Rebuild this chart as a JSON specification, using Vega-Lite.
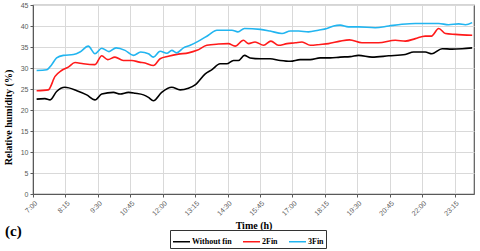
{
  "$schema": "https://vega.github.io/schema/vega-lite/v6.json",
  "width": 441,
  "height": 189,
  "autosize": {"type": "none"},
  "padding": {"left": 33, "top": 5, "right": 6, "bottom": 57},
  "background": "white",
  "title": {
    "text": "(c)",
    "orient": "bottom",
    "anchor": "start",
    "frame": "group",
    "font": "Liberation Serif",
    "fontSize": 15,
    "fontWeight": "bold",
    "color": "black",
    "dx": -28,
    "dy": -14,
    "offset": -11
  },
  "config": {
    "view": {"stroke": "#595959", "strokeWidth": 1.2},
    "axis": {
      "gridColor": "#d9d9d9",
      "gridWidth": 1,
      "domainColor": "#595959",
      "tickColor": "#595959",
      "tickSize": 3,
      "labelFont": "Liberation Sans",
      "labelFontSize": 7,
      "labelColor": "#595959",
      "titleFont": "Liberation Serif",
      "titleFontSize": 10,
      "titleFontWeight": "bold",
      "titleColor": "black"
    }
  },
  "data": {
    "values": [
      {"h": 7.14, "s": "Without fin", "v": 22.6},
      {"h": 7.46, "s": "Without fin", "v": 22.7},
      {"h": 7.66, "s": "Without fin", "v": 22.4},
      {"h": 7.91, "s": "Without fin", "v": 24.4},
      {"h": 8.23, "s": "Without fin", "v": 25.4},
      {"h": 8.69, "s": "Without fin", "v": 24.6},
      {"h": 9.07, "s": "Without fin", "v": 23.6},
      {"h": 9.39, "s": "Without fin", "v": 22.4},
      {"h": 9.65, "s": "Without fin", "v": 23.8},
      {"h": 10.1, "s": "Without fin", "v": 24.2},
      {"h": 10.36, "s": "Without fin", "v": 23.8},
      {"h": 10.68, "s": "Without fin", "v": 24.2},
      {"h": 10.94, "s": "Without fin", "v": 24.0},
      {"h": 11.26, "s": "Without fin", "v": 23.6},
      {"h": 11.45, "s": "Without fin", "v": 23.0},
      {"h": 11.64, "s": "Without fin", "v": 22.2},
      {"h": 11.96, "s": "Without fin", "v": 24.2},
      {"h": 12.35, "s": "Without fin", "v": 25.4},
      {"h": 12.67, "s": "Without fin", "v": 24.8},
      {"h": 12.99, "s": "Without fin", "v": 25.2},
      {"h": 13.25, "s": "Without fin", "v": 26.0},
      {"h": 13.64, "s": "Without fin", "v": 28.6},
      {"h": 13.9, "s": "Without fin", "v": 29.6},
      {"h": 14.21, "s": "Without fin", "v": 31.0},
      {"h": 14.47, "s": "Without fin", "v": 31.0},
      {"h": 14.73, "s": "Without fin", "v": 31.8},
      {"h": 14.92, "s": "Without fin", "v": 31.8},
      {"h": 15.15, "s": "Without fin", "v": 33.0},
      {"h": 15.37, "s": "Without fin", "v": 32.4},
      {"h": 15.76, "s": "Without fin", "v": 32.2},
      {"h": 16.14, "s": "Without fin", "v": 32.2},
      {"h": 16.53, "s": "Without fin", "v": 31.8},
      {"h": 16.92, "s": "Without fin", "v": 31.6},
      {"h": 17.3, "s": "Without fin", "v": 32.0},
      {"h": 17.69, "s": "Without fin", "v": 32.0},
      {"h": 18.07, "s": "Without fin", "v": 32.4},
      {"h": 18.46, "s": "Without fin", "v": 32.4},
      {"h": 18.84, "s": "Without fin", "v": 32.6},
      {"h": 19.23, "s": "Without fin", "v": 32.7},
      {"h": 19.55, "s": "Without fin", "v": 33.0},
      {"h": 20.07, "s": "Without fin", "v": 32.6},
      {"h": 20.71, "s": "Without fin", "v": 32.9},
      {"h": 21.35, "s": "Without fin", "v": 33.2},
      {"h": 21.67, "s": "Without fin", "v": 33.8},
      {"h": 22.12, "s": "Without fin", "v": 33.8},
      {"h": 22.38, "s": "Without fin", "v": 33.4},
      {"h": 22.77, "s": "Without fin", "v": 34.6},
      {"h": 23.15, "s": "Without fin", "v": 34.5},
      {"h": 23.54, "s": "Without fin", "v": 34.6},
      {"h": 23.93, "s": "Without fin", "v": 34.8},

      {"h": 7.14, "s": "2Fin", "v": 24.6},
      {"h": 7.59, "s": "2Fin", "v": 24.8},
      {"h": 7.85, "s": "2Fin", "v": 28.0},
      {"h": 8.1, "s": "2Fin", "v": 29.4},
      {"h": 8.36, "s": "2Fin", "v": 30.2},
      {"h": 8.62, "s": "2Fin", "v": 31.3},
      {"h": 8.94, "s": "2Fin", "v": 31.0},
      {"h": 9.39, "s": "2Fin", "v": 30.8},
      {"h": 9.65, "s": "2Fin", "v": 32.9},
      {"h": 9.88, "s": "2Fin", "v": 32.0},
      {"h": 10.16, "s": "2Fin", "v": 32.6},
      {"h": 10.48, "s": "2Fin", "v": 31.8},
      {"h": 10.81, "s": "2Fin", "v": 31.8},
      {"h": 11.1, "s": "2Fin", "v": 31.4},
      {"h": 11.32, "s": "2Fin", "v": 31.2},
      {"h": 11.64, "s": "2Fin", "v": 30.6},
      {"h": 11.9, "s": "2Fin", "v": 32.2},
      {"h": 12.22, "s": "2Fin", "v": 32.8},
      {"h": 12.6, "s": "2Fin", "v": 33.3},
      {"h": 12.99, "s": "2Fin", "v": 33.6},
      {"h": 13.32, "s": "2Fin", "v": 34.2},
      {"h": 13.7, "s": "2Fin", "v": 35.4},
      {"h": 14.15, "s": "2Fin", "v": 35.7},
      {"h": 14.53, "s": "2Fin", "v": 35.8},
      {"h": 14.79, "s": "2Fin", "v": 35.2},
      {"h": 15.11, "s": "2Fin", "v": 36.6},
      {"h": 15.31, "s": "2Fin", "v": 35.8},
      {"h": 15.56, "s": "2Fin", "v": 36.2},
      {"h": 15.89, "s": "2Fin", "v": 35.4},
      {"h": 16.17, "s": "2Fin", "v": 36.4},
      {"h": 16.46, "s": "2Fin", "v": 35.4},
      {"h": 16.79, "s": "2Fin", "v": 35.8},
      {"h": 17.11, "s": "2Fin", "v": 36.0},
      {"h": 17.37, "s": "2Fin", "v": 36.2},
      {"h": 17.69, "s": "2Fin", "v": 35.4},
      {"h": 18.07, "s": "2Fin", "v": 35.6},
      {"h": 18.39, "s": "2Fin", "v": 35.8},
      {"h": 18.84, "s": "2Fin", "v": 36.4},
      {"h": 19.2, "s": "2Fin", "v": 36.7},
      {"h": 19.68, "s": "2Fin", "v": 36.0},
      {"h": 20.32, "s": "2Fin", "v": 36.0},
      {"h": 20.97, "s": "2Fin", "v": 36.6},
      {"h": 21.35, "s": "2Fin", "v": 36.4},
      {"h": 21.74, "s": "2Fin", "v": 37.0},
      {"h": 22.12, "s": "2Fin", "v": 37.6},
      {"h": 22.36, "s": "2Fin", "v": 37.6},
      {"h": 22.64, "s": "2Fin", "v": 39.4},
      {"h": 22.9, "s": "2Fin", "v": 38.2},
      {"h": 23.28, "s": "2Fin", "v": 38.0},
      {"h": 23.93, "s": "2Fin", "v": 37.8},

      {"h": 7.14, "s": "3Fin", "v": 29.4},
      {"h": 7.53, "s": "3Fin", "v": 29.6},
      {"h": 7.72, "s": "3Fin", "v": 30.8},
      {"h": 7.91, "s": "3Fin", "v": 32.4},
      {"h": 8.17, "s": "3Fin", "v": 33.0},
      {"h": 8.56, "s": "3Fin", "v": 33.2},
      {"h": 8.81, "s": "3Fin", "v": 33.8},
      {"h": 9.13, "s": "3Fin", "v": 35.2},
      {"h": 9.39, "s": "3Fin", "v": 33.4},
      {"h": 9.65, "s": "3Fin", "v": 34.7},
      {"h": 9.93, "s": "3Fin", "v": 33.9},
      {"h": 10.2, "s": "3Fin", "v": 34.8},
      {"h": 10.55, "s": "3Fin", "v": 34.2},
      {"h": 10.87, "s": "3Fin", "v": 33.0},
      {"h": 11.15, "s": "3Fin", "v": 33.8},
      {"h": 11.45, "s": "3Fin", "v": 33.4},
      {"h": 11.64, "s": "3Fin", "v": 32.6},
      {"h": 11.9, "s": "3Fin", "v": 34.0},
      {"h": 12.16, "s": "3Fin", "v": 33.5},
      {"h": 12.35, "s": "3Fin", "v": 34.2},
      {"h": 12.54, "s": "3Fin", "v": 33.6},
      {"h": 12.8, "s": "3Fin", "v": 34.8},
      {"h": 13.06, "s": "3Fin", "v": 35.4},
      {"h": 13.38, "s": "3Fin", "v": 36.4},
      {"h": 13.76, "s": "3Fin", "v": 37.8},
      {"h": 14.09, "s": "3Fin", "v": 39.0},
      {"h": 14.41, "s": "3Fin", "v": 39.0},
      {"h": 14.67, "s": "3Fin", "v": 39.0},
      {"h": 14.9, "s": "3Fin", "v": 38.6},
      {"h": 15.15, "s": "3Fin", "v": 39.4},
      {"h": 15.76, "s": "3Fin", "v": 39.2},
      {"h": 16.14, "s": "3Fin", "v": 38.8},
      {"h": 16.6, "s": "3Fin", "v": 38.2},
      {"h": 16.92, "s": "3Fin", "v": 38.8},
      {"h": 17.24, "s": "3Fin", "v": 38.8},
      {"h": 17.62, "s": "3Fin", "v": 38.6},
      {"h": 18.0, "s": "3Fin", "v": 39.0},
      {"h": 18.33, "s": "3Fin", "v": 39.4},
      {"h": 18.59, "s": "3Fin", "v": 40.0},
      {"h": 18.84, "s": "3Fin", "v": 40.2},
      {"h": 19.16, "s": "3Fin", "v": 39.8},
      {"h": 19.55, "s": "3Fin", "v": 39.8},
      {"h": 20.19, "s": "3Fin", "v": 39.6},
      {"h": 20.71, "s": "3Fin", "v": 40.0},
      {"h": 21.22, "s": "3Fin", "v": 40.4},
      {"h": 21.74, "s": "3Fin", "v": 40.6},
      {"h": 22.25, "s": "3Fin", "v": 40.6},
      {"h": 22.64, "s": "3Fin", "v": 40.6},
      {"h": 23.02, "s": "3Fin", "v": 40.3},
      {"h": 23.41, "s": "3Fin", "v": 40.5},
      {"h": 23.67, "s": "3Fin", "v": 40.3},
      {"h": 23.93, "s": "3Fin", "v": 40.8}
    ]
  },
  "mark": {"type": "line", "strokeWidth": 1.6, "interpolate": "monotone"},
  "encoding": {
    "x": {
      "field": "h",
      "type": "quantitative",
      "scale": {"domain": [7, 24], "nice": false, "zero": false},
      "axis": {
        "title": "Time (h)",
        "values": [7, 8.25, 9.5, 10.75, 12, 13.25, 14.5, 15.75, 17, 18.25, 19.5, 20.75, 22, 23.25],
        "labelExpr": "floor(datum.value) + ':' + (round((datum.value % 1) * 60) < 10 ? '0' : '') + round((datum.value % 1) * 60)",
        "labelAngle": -45,
        "labelPadding": 2,
        "grid": true,
        "titlePadding": 4
      }
    },
    "y": {
      "field": "v",
      "type": "quantitative",
      "scale": {"domain": [0, 45], "nice": false},
      "axis": {
        "title": "Relative humidity (%)",
        "values": [0, 5, 10, 15, 20, 25, 30, 35, 40, 45],
        "labelPadding": 2,
        "grid": true,
        "titleAngle": -90,
        "titleX": -25,
        "titleY": 112,
        "titleAlign": "center",
        "titleBaseline": "middle"
      }
    },
    "color": {
      "field": "s",
      "type": "nominal",
      "scale": {"domain": ["Without fin", "2Fin", "3Fin"], "range": ["#000000", "#ff1a1a", "#22b5f0"]},
      "legend": {
        "title": null,
        "orient": "none",
        "direction": "horizontal",
        "legendX": 137,
        "legendY": 225,
        "strokeColor": "#333333",
        "padding": 2,
        "symbolType": "stroke",
        "symbolSize": 289,
        "symbolStrokeWidth": 1.5,
        "labelFont": "Liberation Serif",
        "labelFontWeight": "bold",
        "labelFontSize": 8,
        "labelColor": "black",
        "labelOffset": 1,
        "columnPadding": 8
      }
    }
  }
}
